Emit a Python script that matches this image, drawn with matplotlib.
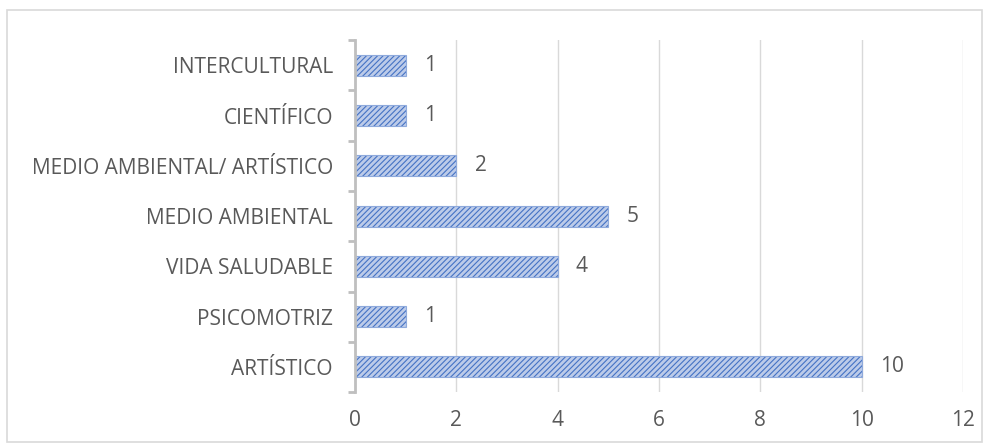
import matplotlib

matplotlib.use("Agg")
import matplotlib.pyplot as plt  # noqa: E402
import numpy as np  # noqa: E402
from matplotlib.patches import Rectangle  # noqa: E402

# datos (de abajo hacia arriba)
categorias = [
    "ARTÍSTICO",
    "PSICOMOTRIZ",
    "VIDA SALUDABLE",
    "MEDIO AMBIENTAL",
    "MEDIO AMBIENTAL/ ARTÍSTICO",
    "CIENTÍFICO",
    "INTERCULTURAL",
]
valores = [10, 1, 4, 5, 2, 1, 1]
xticks = [0, 2, 4, 6, 8, 10, 12]

plt.rcParams["font.family"] = ["Open Sans", "DejaVu Sans"]
plt.rcParams["hatch.color"] = "#4472c4"
plt.rcParams["hatch.linewidth"] = 0.8

TXT = "#595959"
GRID = "#d9d9d9"
FS = 15

fig = plt.figure(figsize=(9.9, 4.47), dpi=100)
ax = fig.add_axes([0.3586, 0.123, 0.6141, 0.787])

y = np.arange(len(categorias))
ax.barh(y, valores, height=0.42, color="#bccbe9", edgecolor="#4472c4",
        hatch="//////", linewidth=0.0, zorder=3)
# contorno claro de las barras
ax.barh(y, valores, height=0.42, fill=False, edgecolor="#8faadc",
        linewidth=0.8, zorder=3)

for yi, v in zip(y, valores):
    ax.text(v + 0.36, yi, str(v), va="center", ha="left", fontsize=FS, color=TXT)

ax.set_xlim(0, 12)
ax.set_ylim(-0.5, len(categorias) - 0.5)
ax.set_xticks(xticks)
ax.set_xticklabels([str(t) for t in xticks], fontsize=FS, color=TXT)
ax.set_yticks(y)
ax.set_yticklabels(categorias, fontsize=FS, color=TXT)
ax.set_yticks(np.arange(-0.5, len(categorias)), minor=True)

ax.tick_params(axis="x", length=0, pad=13)
ax.tick_params(axis="y", which="major", length=0, pad=16)
ax.tick_params(axis="y", which="minor", length=5, width=2, color="#bfbfbf")

ax.grid(axis="x", color=GRID, linewidth=1, zorder=0)
for s in ["top", "right", "bottom"]:
    ax.spines[s].set_visible(False)
ax.spines["left"].set_color("#bfbfbf")
ax.spines["left"].set_linewidth(2)
ax.spines["left"].set_zorder(4)

# borde exterior del gráfico
fig.patches.append(Rectangle((0.007, 0.012), 0.985, 0.966, transform=fig.transFigure,
                             fill=False, edgecolor=GRID, linewidth=1.2))

fig.savefig("out.png", dpi=100)
